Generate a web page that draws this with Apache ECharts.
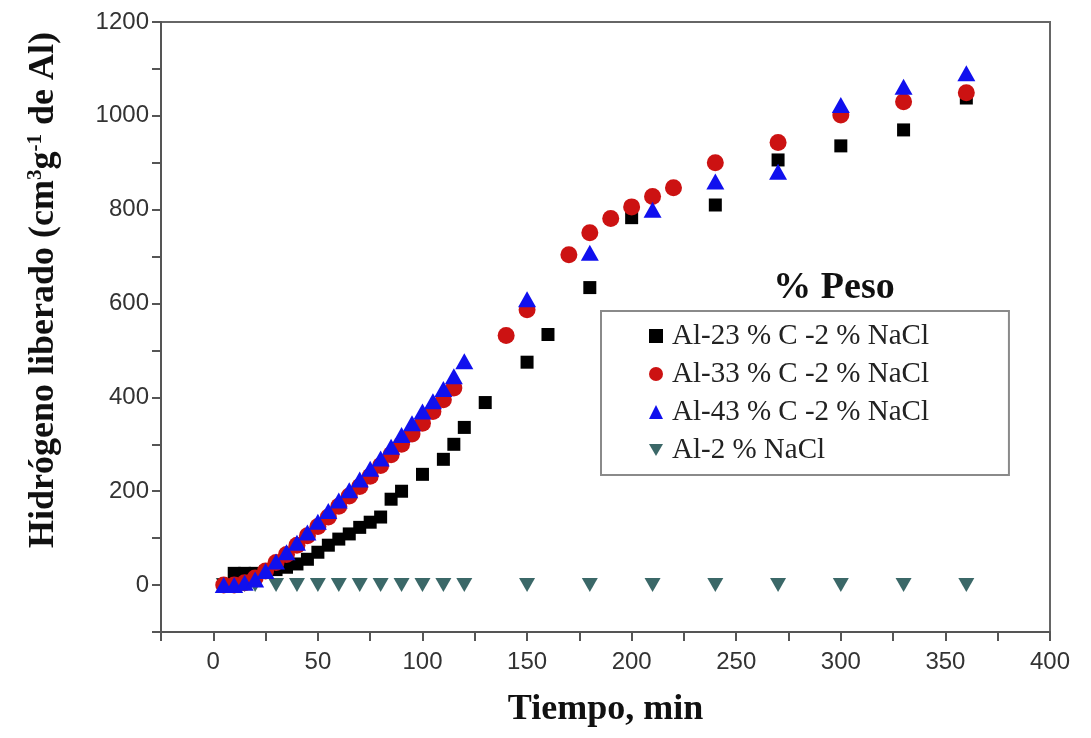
<!DOCTYPE html>
<html>
<head>
<meta charset="utf-8">
<script src="https://cdn.jsdelivr.net/npm/echarts@6/dist/echarts.min.js"></script>
<style>html,body{margin:0;padding:0;background:#fff}#c{width:1091px;height:738px}</style>
</head>
<body>
<div id="c"></div>
<script>
// ---- data ----
const seriesNames = ['Al-23 % C -2 % NaCl', 'Al-33 % C -2 % NaCl', 'Al-43 % C -2 % NaCl', 'Al-2 % NaCl'];

const t23 = [5, 10, 15, 20, 25, 30, 35, 40, 45, 50, 55, 60, 65, 70, 75, 80, 85, 90, 100, 110, 115, 120, 130, 150, 160, 180, 200, 240, 270, 300, 330, 360];
const h23 = [0, 25, 25, 25, 28, 33, 38, 45, 55, 70, 85, 98, 109, 123, 134, 145, 183, 200, 236, 268, 300, 336, 389, 475, 534, 634, 783, 810, 906, 936, 970, 1038];

const t33 = [5, 10, 15, 20, 25, 30, 35, 40, 45, 50, 55, 60, 65, 70, 75, 80, 85, 90, 95, 100, 105, 110, 115, 140, 150, 170, 180, 190, 200, 210, 220, 240, 270, 300, 330, 360];
const h33 = [0, 0, 5, 15, 30, 48, 65, 85, 105, 125, 145, 168, 190, 210, 232, 255, 278, 300, 322, 345, 370, 395, 420, 532, 587, 704, 751, 781, 806, 828, 847, 900, 943, 1002, 1030, 1049];

const t43 = [5, 10, 15, 20, 25, 30, 35, 40, 45, 50, 55, 60, 65, 70, 75, 80, 85, 90, 95, 100, 105, 110, 115, 120, 150, 180, 210, 240, 270, 300, 330, 360];
const h43 = [0, 0, 5, 12, 30, 50, 70, 90, 112, 135, 158, 180, 202, 225, 248, 270, 295, 320, 345, 370, 392, 418, 445, 477, 609, 708, 800, 860, 881, 1023, 1062, 1091];

const t2 = [5, 10, 15, 20, 30, 40, 50, 60, 70, 80, 90, 100, 110, 120, 150, 180, 210, 240, 270, 300, 330, 360];
const h2 = [0, 0, 0, 0, 0, 0, 0, 0, 0, 0, 0, 0, 0, 0, 0, 0, 0, 0, 0, 0, 0, 0];

const xTickStep = 25, xLabelStep = 50;
const yTickStep = 100, yLabelStep = 200;

const pair = (xs, ys) => xs.map((x, i) => [x, ys[i]]);

const serif = '"Liberation Serif", "Times New Roman", serif';
const sans = '"Liberation Sans", Arial, sans-serif';
const downTri = 'path://M0,0 L10,0 L5,8.66 Z';

const chart = echarts.init(document.getElementById('c'), null, { renderer: 'canvas' });
chart.setOption({
  animation: false,
  backgroundColor: '#fff',
  title: {
    text: '% Peso',
    left: 829, top: 264, textAlign: 'center',
    textStyle: { fontFamily: serif, fontWeight: 'bold', fontSize: 38, color: '#111' }
  },
  legend: {
    orient: 'vertical',
    left: 601, top: 311,
    padding: [10, 80, 10, 48],
    itemGap: 8,
    itemWidth: 14, itemHeight: 14,
    borderColor: '#8a8a8a', borderWidth: 2,
    textStyle: { fontFamily: serif, fontSize: 29, lineHeight: 30, color: '#222', padding: [0, 0, 0, 4] },
    data: [
      { name: seriesNames[0], icon: 'rect' },
      { name: seriesNames[1], icon: 'circle' },
      { name: seriesNames[2], icon: 'triangle' },
      { name: seriesNames[3], icon: downTri }
    ]
  },
  grid: { left: 161, right: 41, top: 22, bottom: 106, show: true, borderColor: '#666', borderWidth: 2, backgroundColor: 'transparent' },
  xAxis: {
    type: 'value', min: -25, max: 400, interval: xTickStep,
    name: 'Tiempo, min', nameLocation: 'middle', nameGap: 60,
    nameTextStyle: { fontFamily: serif, fontWeight: 'bold', fontSize: 36, color: '#111' },
    axisLine: { show: true, onZero: false, lineStyle: { color: '#555', width: 2 } },
    axisTick: { show: true, length: 9, lineStyle: { color: '#555', width: 2 } },
    splitLine: { show: false },
    axisLabel: {
      fontFamily: sans, fontSize: 24, color: '#333', margin: 18,
      formatter: v => (v % xLabelStep === 0 ? String(v) : '')
    }
  },
  yAxis: {
    type: 'value', min: -100, max: 1200, interval: yTickStep,
    name: '{b|Hidrógeno liberado (cm}{s|3}{b|g}{s|-1}{b| de Al)}',
    nameLocation: 'middle', nameGap: 98, nameRotate: 90,
    nameTextStyle: {
      padding: [0, 0, 0, 74],
      rich: {
        b: { fontFamily: serif, fontWeight: 'bold', fontSize: 36, color: '#111', lineHeight: 38 },
        s: { fontFamily: serif, fontWeight: 'bold', fontSize: 21, color: '#111', lineHeight: 38, verticalAlign: 'top', padding: [0, 0, 14, 0] }
      }
    },
    axisLine: { show: true, onZero: false, lineStyle: { color: '#555', width: 2 } },
    axisTick: { show: true, length: 9, lineStyle: { color: '#555', width: 2 } },
    splitLine: { show: false },
    axisLabel: {
      fontFamily: sans, fontSize: 24, color: '#333', margin: 12,
      formatter: v => (v % yLabelStep === 0 && v >= 0 ? String(v) : '')
    }
  },
  series: [
    { name: seriesNames[3], type: 'scatter', symbol: downTri, symbolSize: [16, 14], itemStyle: { color: '#3b6868', opacity: 1 }, data: pair(t2, h2), z: 2 },
    { name: seriesNames[0], type: 'scatter', symbol: 'rect', symbolSize: 13, itemStyle: { color: '#000', opacity: 1 }, data: pair(t23, h23), z: 3 },
    { name: seriesNames[1], type: 'scatter', symbol: 'circle', symbolSize: 17, itemStyle: { color: '#cc1212', opacity: 1 }, data: pair(t33, h33), z: 4 },
    { name: seriesNames[2], type: 'scatter', symbol: 'triangle', symbolSize: [18, 16], itemStyle: { color: '#1010ee', opacity: 1 }, data: pair(t43, h43), z: 5 }
  ]
});
</script>
</body>
</html>
